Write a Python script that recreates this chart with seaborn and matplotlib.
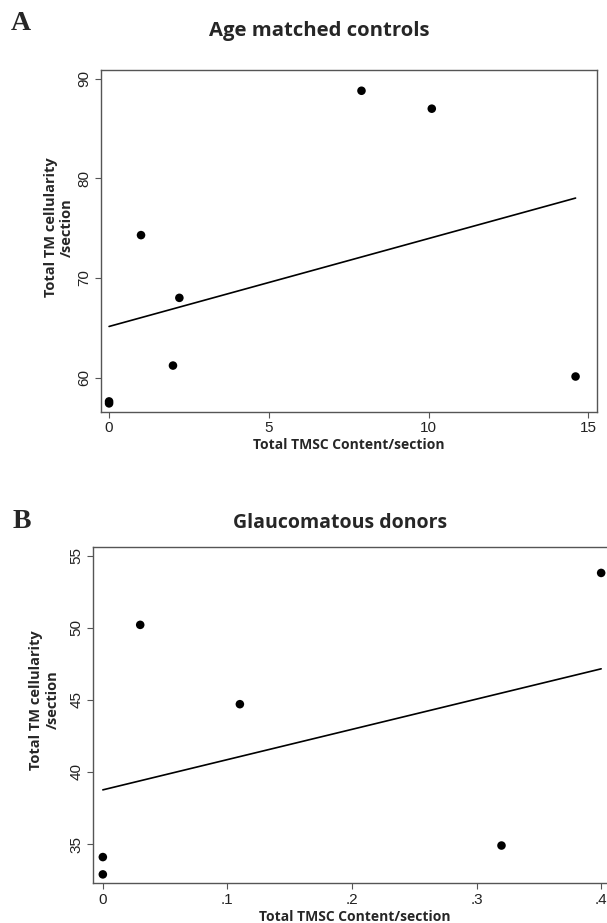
import pandas as pd
import matplotlib.pyplot as plt
import seaborn as sns

# panel A - age matched controls
ctrl_tmsc = [0, 0, 1.0, 2.0, 2.2, 7.9, 10.1, 14.6]
ctrl_cell = [57.6, 57.4, 74.3, 61.2, 68.0, 88.8, 87.0, 60.1]

# panel B - glaucomatous donors
glau_tmsc = [0, 0, 0.03, 0.11, 0.32, 0.40]
glau_cell = [34.1, 32.9, 50.2, 44.7, 34.9, 53.8]

ctrl = pd.DataFrame({'tmsc': ctrl_tmsc, 'cell': ctrl_cell})
glau = pd.DataFrame({'tmsc': glau_tmsc, 'cell': glau_cell})

sns.set_theme(style="ticks")
plt.rcParams['font.family'] = ['Liberation Sans', 'DejaVu Sans']

fig = plt.figure(figsize=(6.07, 9.23), dpi=100)
axA = fig.add_axes([0.166, 0.554, 0.818, 0.370])
axB = fig.add_axes([0.153, 0.0433, 0.862, 0.3641])

scat = dict(color='black', s=38, edgecolor='none', alpha=1)
line = dict(color='black', lw=1.2)
sns.regplot(data=ctrl, x='tmsc', y='cell', ci=None, ax=axA, scatter_kws=scat, line_kws=line)
sns.regplot(data=glau, x='tmsc', y='cell', ci=None, ax=axB, scatter_kws=scat, line_kws=line)

axA.set_xlim(-0.26, 15.28)
axA.set_ylim(56.57, 90.87)
axA.set_xticks([0, 5, 10, 15])
axA.set_yticks([60, 70, 80, 90])

axB.set_xlim(-0.008, 0.412)
axB.set_ylim(32.3, 55.6)
axB.set_xticks([0, 0.1, 0.2, 0.3, 0.4])
axB.set_xticklabels(['0', '.1', '.2', '.3', '.4'])
axB.set_yticks([35, 40, 45, 50, 55])

for ax, pad, ly in ((axA, 2, 0.54), (axB, 7, 0.545)):
    for sp in ax.spines.values():
        sp.set_color('#555555')
        sp.set_linewidth(1.0)
    ax.tick_params(colors='#555555', labelcolor='#222222', length=4, width=0.8,
                   labelsize=11, pad=3)
    for lab in ax.get_yticklabels():
        lab.set_rotation(90)
        lab.set_va('center')
    ax.set_xlabel('Total TMSC Content/section', fontsize=10, fontweight='bold',
                  family=['Open Sans', 'DejaVu Sans'], labelpad=2)
    ax.set_ylabel('Total TM cellularity\n/section', fontsize=10.5, fontweight='bold',
                  family=['Open Sans', 'DejaVu Sans'], labelpad=pad)
    ax.yaxis.label.set_y(ly)

fig.text(0.017, 0.975, 'A', fontsize=20, fontweight='bold', family='Liberation Serif', va='center')
fig.text(0.526, 0.966, 'Age matched controls', fontsize=14.6, fontweight='bold',
         family=['Open Sans', 'DejaVu Sans'], ha='center', va='center')
fig.text(0.02, 0.435, 'B', fontsize=20, fontweight='bold', family='Liberation Serif', va='center')
fig.text(0.56, 0.433, 'Glaucomatous donors', fontsize=14, fontweight='bold',
         family=['Open Sans', 'DejaVu Sans'], ha='center', va='center')

fig.savefig('out.png', dpi=100)
